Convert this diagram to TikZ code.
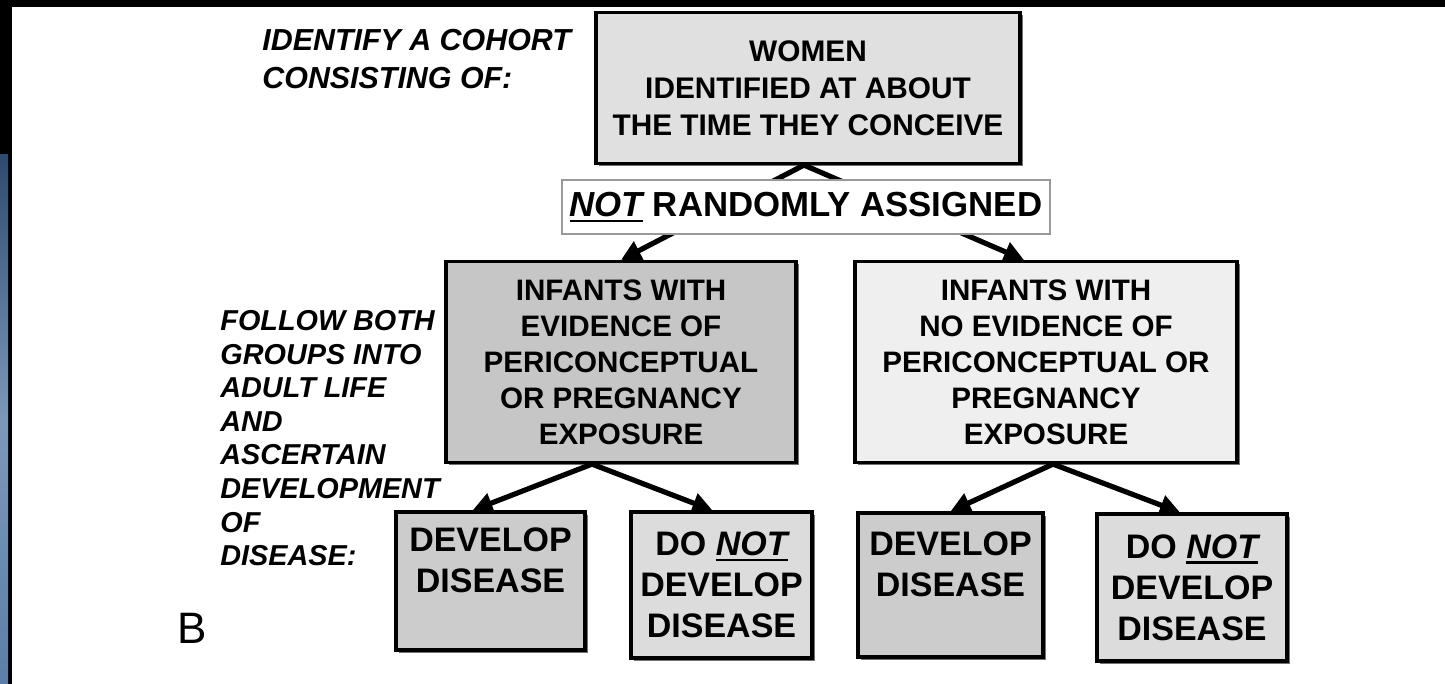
\documentclass[tikz,border=0pt]{standalone}
\usepackage{fontspec}
\setmainfont{Liberation Sans}
\usetikzlibrary{arrows.meta,calc,shadows}

\definecolor{womenfill}{HTML}{E0E0E0}
\definecolor{expfill}{HTML}{C6C6C6}
\definecolor{noexpfill}{HTML}{EFEFEF}
\definecolor{devfill}{HTML}{CCCCCC}
\definecolor{notdevfill}{HTML}{DCDCDC}
\definecolor{slideblue}{HTML}{5B7FA8}
\definecolor{slidedark}{HTML}{2E4A6E}

% underline drawn as a solid rule under a word
\newcommand{\ulword}[1]{\setbox0=\hbox{#1}\rlap{\rule[-2.8pt]{\wd0}{1.2pt}}\box0\relax}

\begin{document}
\begin{tikzpicture}[x=0.5pt,y=-0.5pt,
  box/.style={draw=black, line width=1.6pt, inner sep=0pt, align=center,
    drop shadow={shadow xshift=1.3pt, shadow yshift=-1.3pt, fill=black!55, opacity=1}},
  labelbox/.style={draw=black!40, line width=1.3pt, fill=white, inner sep=0pt, align=center},
  midtext/.style={font=\fontsize{14.8}{18}\selectfont\bfseries},
  toptext/.style={font=\fontsize{14.9}{18.5}\selectfont\bfseries},
  endtext/.style={font=\fontsize{17}{20.5}\selectfont\bfseries},
  sidetext/.style={anchor=north west, inner sep=0pt, align=left},
  arr/.style={line width=2.6pt, -{Triangle[length=10pt,width=10pt]}}]

\useasboundingbox (0,0) rectangle (1445,684);
\fill[white] (0,0) rectangle (1445,684);

% slide frame behind the figure
\fill[black] (0,0) rectangle (1445,7);
\fill[black] (0,0) rectangle (12,684);
\shade[top color=slidedark, bottom color=slideblue, middle color=slideblue!80!white] (0,155) rectangle (8,684);

% side notes
\node[sidetext, font=\fontsize{15.2}{19}\selectfont\bfseries\itshape] (cohort) at (262,29)
  {IDENTIFY A COHORT\\CONSISTING OF:};
\node[sidetext, font=\fontsize{14.4}{16.8}\selectfont\bfseries\itshape] (follow) at (220,310)
  {FOLLOW BOTH\\GROUPS INTO\\ADULT LIFE\\AND\\ASCERTAIN\\DEVELOPMENT\\OF\\DISEASE:};
\node[font=\fontsize{22}{22}\selectfont, inner sep=0pt] (panel) at (192,628) {B};

% cohort
\node[box, toptext, fill=womenfill, minimum width=212pt, minimum height=75.5pt] (women) at (808,88)
  {WOMEN\\IDENTIFIED AT ABOUT\\THE TIME THEY CONCEIVE};

% exposure groups
\node[box, midtext, fill=expfill, minimum width=175pt, minimum height=100.5pt] (exp) at (621,362)
  {INFANTS WITH\\EVIDENCE OF\\PERICONCEPTUAL\\OR PREGNANCY\\EXPOSURE};
\node[box, midtext, fill=noexpfill, minimum width=191pt, minimum height=100.5pt] (noexp) at (1046,362)
  {INFANTS WITH\\NO EVIDENCE OF\\PERICONCEPTUAL OR\\PREGNANCY\\EXPOSURE};

% outcomes
\node[box, endtext, fill=devfill, minimum width=94.5pt, minimum height=69pt] (expdev) at (490.5,581)
  {DEVELOP\\DISEASE\\\mbox{}};
\node[box, endtext, fill=notdevfill, minimum width=90.5pt, minimum height=73pt] (expnot) at (721.5,585)
  {DO \ulword{\itshape NOT}\\DEVELOP\\DISEASE};
\node[box, endtext, fill=devfill, minimum width=92.5pt, minimum height=72pt] (noexpdev) at (950.5,585)
  {DEVELOP\\DISEASE\\\mbox{}};
\node[box, endtext, fill=notdevfill, minimum width=95pt, minimum height=73.5pt] (noexpnot) at (1192,587.5)
  {DO \ulword{\itshape NOT}\\DEVELOP\\DISEASE};

% branching arrows
\coordinate (split0) at ($(women.south)+(-4,0)$);
\coordinate (split1) at ($(exp.south)+(-29,0)$);
\coordinate (split2) at ($(noexp.south)+(7,0)$);

\draw[arr] (split0) -- (exp.north);
\draw[arr] (split0) -- ($(noexp.north)+(-22,0)$);
\draw[arr] (split1) -- ($(expdev.north)+(-18,0)$);
\draw[arr] (split1) -- ($(expnot.north)+(-9,0)$);
\draw[arr] (split2) -- (noexpdev.north);
\draw[arr] (split2) -- ($(noexpnot.north)+(-12,0)$);

% assignment label sits over the upper arrows
\node[labelbox, font=\fontsize{17.4}{20}\selectfont\bfseries, minimum width=244pt, minimum height=27pt] (assign) at (806,207)
  {\ulword{\itshape NOT} RANDOMLY ASSIGNED};

\end{tikzpicture}
\end{document}
